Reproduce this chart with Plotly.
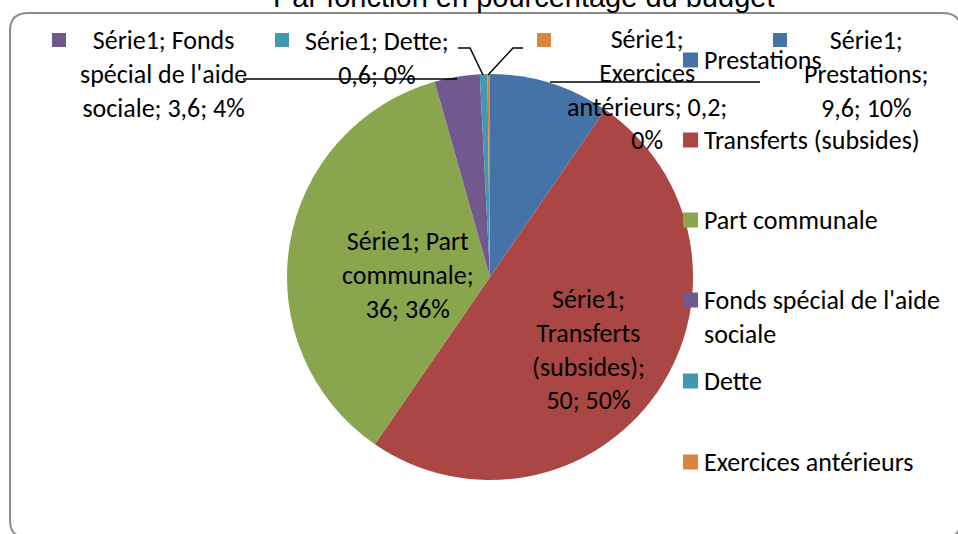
import plotly.graph_objects as go

# ---- data ----
categories = ["Prestations", "Transferts (subsides)", "Part communale",
              "Fonds spécial de l'aide sociale", "Dette", "Exercices antérieurs"]
values = [9.6, 50, 36, 3.6, 0.6, 0.2]
value_labels = ["9,6", "50", "36", "3,6", "0,6", "0,2"]
pct_labels = [10, 50, 36, 4, 0, 0]
series_name = "Série1"
title_text = "Par fonction en pourcentage du budget"

# ---- style ----
colors = ["#4572A7", "#AA4643", "#89A54E", "#71588F", "#4198AF", "#DB843D"]
W, H = 958, 534
FONT = "Carlito, Lato, sans-serif"
FS = 26

def px(x):
    return x / W

def py(y):
    return 1 - y / H

# label wrapping templates (layout only)
label_templates = [
    "{s};<br>{c};<br>{v}; {p}%",
    "{s};<br>{c1}<br>{c2};<br>{v}; {p}%",
    "{s}; {c1}<br>{c2};<br>{v}; {p}%",
    "{s}; {c1}<br>{c2}<br>{c3}; {v}; {p}%",
    "{s}; {c};<br>{v}; {p}%",
    "{s};<br>{c1}<br>{c2}; {v};<br>{p}%",
]
label_pos = [(866, 74), (588, 349), (408, 275), (163, 74), (377, 58), (647, 90)]
label_key = [773, None, None, 52, 275, 537]

legend_rows = [60, 140, 220, 300, 381, 462]
legend_text = ["Prestations", "Transferts (subsides)", "Part communale",
               "Fonds spécial de l'aide<br>sociale", "Dette", "Exercices antérieurs"]

fig = go.Figure(go.Pie(
    labels=categories, values=values, sort=False, direction="clockwise",
    rotation=0, marker=dict(colors=colors, line=dict(width=0)),
    textinfo="none", showlegend=False,
    domain=dict(x=[px(490 - 203), px(490 + 203)], y=[py(277 + 203), py(277 - 203)]),
))

annotations = []
shapes = []

for i, cat in enumerate(categories):
    words = cat.split(" ")
    parts = dict(s=series_name, c=cat, v=value_labels[i], p=pct_labels[i])
    if i == 1:
        parts.update(c1=words[0], c2=" ".join(words[1:]))
    elif i == 2:
        parts.update(c1=words[0], c2=" ".join(words[1:]))
    elif i == 3:
        parts.update(c1=words[0], c2=" ".join(words[1:4]), c3=words[4])
    elif i == 5:
        parts.update(c1=words[0], c2=words[1])
    txt = label_templates[i].format(**parts)
    x, y = label_pos[i]
    annotations.append(dict(text=txt, x=px(x), y=py(y), xref="paper", yref="paper",
                            xanchor="center", yanchor="middle", align="center",
                            showarrow=False, font=dict(family=FONT, size=FS, color="#000")))
    if label_key[i] is not None:
        k = label_key[i]
        shapes.append(dict(type="rect", xref="paper", yref="paper",
                           x0=px(k), x1=px(k + 14), y0=py(47), y1=py(33),
                           fillcolor=colors[i], line=dict(width=0)))
    # legend
    ly = legend_rows[i]
    shapes.append(dict(type="rect", xref="paper", yref="paper",
                       x0=px(683), x1=px(698), y0=py(ly + 7.5), y1=py(ly - 7.5),
                       fillcolor=colors[i], line=dict(width=0)))
    lt = legend_text[i]
    if "<br>" in lt:
        annotations.append(dict(text=lt, x=px(702), y=py(ly + 16.5), xref="paper", yref="paper",
                                xanchor="left", yanchor="middle", align="left", showarrow=False,
                                font=dict(family=FONT, size=FS, color="#000")))
    else:
        annotations.append(dict(text=lt, x=px(702), y=py(ly), xref="paper", yref="paper",
                                xanchor="left", yanchor="middle", align="left", showarrow=False,
                                font=dict(family=FONT, size=FS, color="#000")))

# title (partly cut off at the top)
annotations.append(dict(text=title_text, x=px(523), y=py(-3), xref="paper", yref="paper",
                        xanchor="center", yanchor="middle", showarrow=False,
                        font=dict(family="Liberation Sans, Arial, sans-serif", size=29, color="#000")))

def path(points):
    return "M " + " L ".join(f"{px(x):.5f},{py(y):.5f}" for x, y in points)

leaders = [
    [(550, 82), (760, 82)],
    [(243, 79), (457, 79)],
    [(458, 48), (470, 48), (483, 75)],
    [(488, 75), (513, 48), (523, 48)],
]
for pts in leaders:
    shapes.append(dict(type="path", xref="paper", yref="paper", path=path(pts),
                       line=dict(color="#000", width=1.5)))

# rounded chart border
L, T, R, B, r = 10, 13, 961, 538, 18
border = (f"M {px(L)},{py(B - r)} L {px(L)},{py(T + r)} Q {px(L)},{py(T)} {px(L + r)},{py(T)} "
          f"L {px(R - r)},{py(T)} Q {px(R)},{py(T)} {px(R)},{py(T + r)} "
          f"L {px(R)},{py(B - r)} Q {px(R)},{py(B)} {px(R - r)},{py(B)} "
          f"L {px(L + r)},{py(B)} Q {px(L)},{py(B)} {px(L)},{py(B - r)} Z")
shapes.append(dict(type="path", xref="paper", yref="paper", path=border,
                   line=dict(color="#8c8c8c", width=2), layer="below"))

fig.update_layout(width=W, height=H, margin=dict(l=0, r=0, t=0, b=0),
                  paper_bgcolor="white", plot_bgcolor="white",
                  annotations=annotations, shapes=shapes)

fig.write_html("out.html", config={"displayModeBar": False},
               post_script="document.body.style.margin='0';document.body.style.overflow='hidden';")
